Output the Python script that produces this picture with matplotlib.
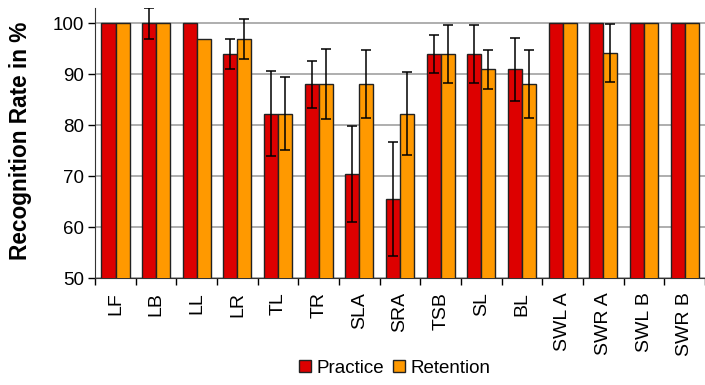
import numpy as np
import matplotlib.pyplot as plt

plt.rcParams['font.family'] = ['Liberation Sans', 'DejaVu Sans']

categories = ['LF', 'LB', 'LL', 'LR', 'TL', 'TR', 'SLA', 'SRA', 'TSB', 'SL',
              'BL', 'SWL A', 'SWR A', 'SWL B', 'SWR B']
practice = [100, 100, 100, 94.0, 82.3, 88.1, 70.5, 65.5, 94.0, 94.0,
            91.0, 100, 100, 100, 100]
retention = [100, 100, 96.9, 96.9, 82.3, 88.1, 88.1, 82.3, 94.0, 91.0,
             88.1, 100, 94.2, 100, 100]
practice_err = [0, 3.0, 0, 2.9, 8.4, 4.6, 9.4, 11.2, 3.8, 5.7,
                6.2, 0, 0, 0, 0]
retention_err = [0, 0, 0, 3.9, 7.2, 6.9, 6.6, 8.2, 5.7, 3.8,
                 6.6, 0, 5.6, 0, 0]

red = '#DD0000'
orange = '#FF9900'

fig = plt.figure(figsize=(7.05, 3.85), dpi=100)
ax = fig.add_axes([0.135, 0.277, 0.865, 0.702])

x = np.arange(len(categories))
w = 0.345
ax.bar(x - w / 2, practice, w, color=red, edgecolor='#222222',
       linewidth=1, label='Practice', zorder=3)
ax.bar(x + w / 2, retention, w, color=orange, edgecolor='#222222',
       linewidth=1, label='Retention', zorder=3)

for off, vals, errs in [(-w / 2, practice, practice_err), (w / 2, retention, retention_err)]:
    vals = np.array(vals)
    errs = np.array(errs)
    m = errs > 0
    ax.errorbar(x[m] + off, vals[m], yerr=errs[m], fmt='none', ecolor='black',
                elinewidth=1.1, capsize=3.7, capthick=1.1, zorder=4)

ax.set_ylim(50, 103)
ax.set_xlim(-0.5, len(categories) - 0.5)
ax.set_yticks(range(50, 101, 10))
ax.tick_params(axis='y', labelsize=13.5, length=5, direction='out', width=1, pad=3)
ax.yaxis.grid(True, color='#999999', linewidth=1.1, zorder=0)
ax.set_axisbelow(True)

ax.set_xticks(x)
ax.set_xticklabels(categories, rotation=90, fontsize=14)
ax.tick_params(axis='x', length=0, pad=10)
ax.set_xticks(np.arange(len(categories) + 1) - 0.5, minor=True)
ax.tick_params(axis='x', which='minor', length=5, width=1, direction='out')

for s in ['top', 'right']:
    ax.spines[s].set_visible(False)
ax.spines['left'].set_color('#333333')
ax.spines['bottom'].set_color('#333333')

ax.set_ylabel('Recognition Rate in %', fontsize=16.3, fontweight='bold')
ax.yaxis.set_label_coords(-0.103, 0.51)

fig.legend(loc='center', bbox_to_anchor=(0.56, 0.044), ncol=2, frameon=False,
           fontsize=13.5, handlelength=0.6, handleheight=0.6, handletextpad=0.3,
           columnspacing=0.5, borderpad=0)

fig.savefig('out.png', dpi=100)
